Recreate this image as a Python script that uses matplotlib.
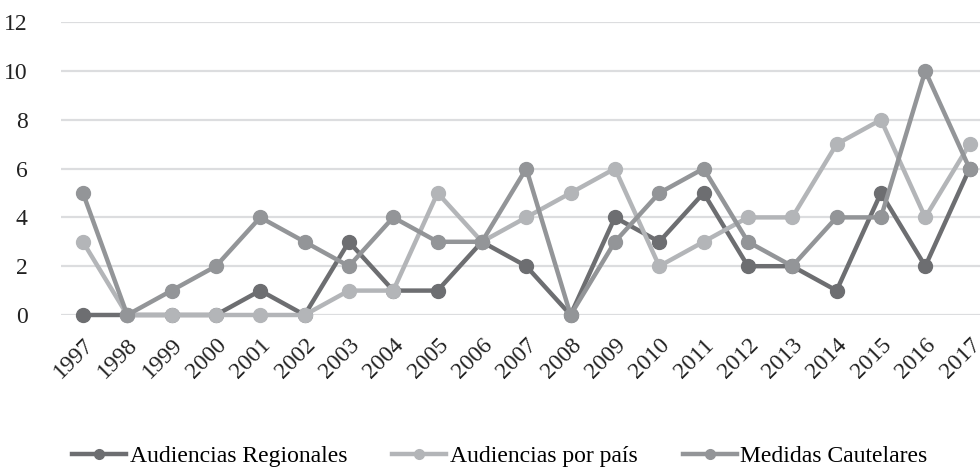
import matplotlib.pyplot as plt

years = [str(y) for y in range(1997, 2018)]
regionales = [0, 0, 0, 0, 1, 0, 3, 1, 1, 3, 2, 0, 4, 3, 5, 2, 2, 1, 5, 2, 6]
por_pais = [3, 0, 0, 0, 0, 0, 1, 1, 5, 3, 4, 5, 6, 2, 3, 4, 4, 7, 8, 4, 7]
cautelares = [5, 0, 1, 2, 4, 3, 2, 4, 3, 3, 6, 0, 3, 5, 6, 3, 2, 4, 4, 10, 6]

plt.rcParams['font.family'] = ['Liberation Serif', 'DejaVu Serif']

fig = plt.figure(figsize=(9.8, 4.67), dpi=100)
ax = fig.add_axes([0.062, 0.3255, 0.95, 0.627])

x = list(range(len(years)))
series = [
    (regionales, "Audiencias Regionales", "#6d6e71"),
    (por_pais, "Audiencias por país", "#b3b5b8"),
    (cautelares, "Medidas Cautelares", "#939598"),
]
for vals, label, col in series:
    ax.plot(x, vals, color=col, lw=3.2, marker="o", ms=10, label=label,
            clip_on=False, solid_joinstyle="round")

ax.set_xlim(-0.5, len(years) - 0.5)
ax.set_ylim(0, 12)
ax.set_yticks(range(0, 13, 2))
ax.grid(axis="y", color="#dcdddf", lw=1.6)
ax.set_axisbelow(True)
for s in ax.spines.values():
    s.set_visible(False)
ax.tick_params(length=0, labelsize=17, colors="#222222")
ax.tick_params(axis="y", pad=24)
ax.set_xticks(x)
ax.set_xticklabels(years, rotation=45, ha="right", rotation_mode="anchor")
ax.tick_params(axis="x", pad=14)

fig.legend(loc="lower center", bbox_to_anchor=(0.51, -0.045), ncol=3, frameon=False,
           fontsize=17, columnspacing=1.9, handlelength=2.3, handletextpad=0.15,
           markerscale=0.7)

fig.savefig("out.png", dpi=100)
